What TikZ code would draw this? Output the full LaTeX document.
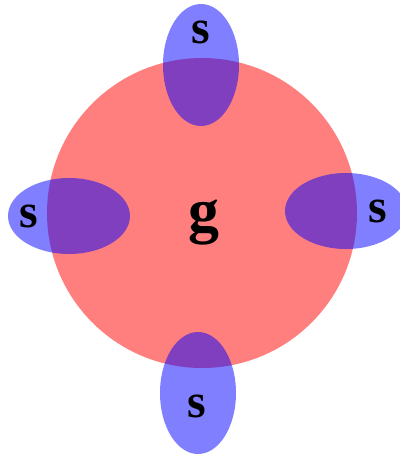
\documentclass[tikz,border=0pt]{standalone}
\usepackage{fontspec}
\setmainfont{Liberation Serif}
\begin{document}
\begin{tikzpicture}[x = 0.025cm, y = -0.025cm]
\tikzset{
	site/.style = {fill = blue, fill opacity = 0.5},
	lbl/.style = {font = \bfseries\fontsize{34}{34}\selectfont, inner sep = 0pt}
}
\useasboundingbox (0,0) rectangle (400,456);
% the big g circle
\fill[red, fill opacity = 0.5] (202,213) circle (155);
\node[lbl, font = \bfseries\fontsize{44}{44}\selectfont] (g) at (204,222) {g};

% the four s ellipses
\fill[site] (201,65) ellipse (38 and 61);
\node[lbl] (sTop) at (201,32) {s};

\fill[site] (69,216) ellipse (61 and 38);
\node[lbl] (sLeft) at (29,216) {s};

\fill[site] (346,211) ellipse (61 and 38);
\node[lbl] (sRight) at (378,211) {s};

\fill[site] (198,393) ellipse (38 and 61);
\node[lbl] (sBottom) at (197,406) {s};
\end{tikzpicture}
\end{document}
